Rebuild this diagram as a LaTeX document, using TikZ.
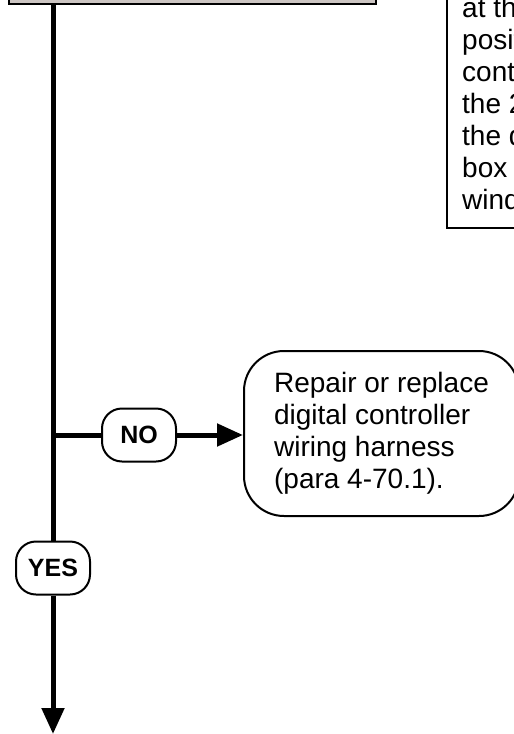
\documentclass[tikz,border=0pt]{standalone}
\usepackage{fontspec}
\setmainfont{Liberation Sans}
\usepackage{xcolor}
\usepackage{tikz}
\usetikzlibrary{arrows.meta, positioning}
\definecolor{stepgray}{RGB}{204,197,194}
\tikzset{
    box/.style={rectangle, draw=black, line width=2pt, align=left, font=\fontsize{28}{32}\selectfont},
    answer/.style={rectangle, rounded corners=20pt, draw=black, line width=2pt, fill=white, minimum width=74pt, minimum height=53pt, inner sep=0pt, font=\fontsize{25}{28}\selectfont\bfseries},
    flow/.style={line width=5pt},
    arrow/.style={line width=5pt, -{Triangle[length=26pt, width=22pt]}}
}

\begin{document}
\begin{tikzpicture}[
        x=1pt, y=-1pt,
        % Text of the cut-off note
        lbl/.style={inner sep=0pt, align=left, font=\fontsize{28}{32}\selectfont}
    ]
        \useasboundingbox (0,0) rectangle (514,734);
        \clip (0,0) rectangle (514,734);

        % --- Previous step (cut off at the top) ---
        \node (check) [box, fill=stepgray, anchor=south west, minimum width=367pt, minimum height=80pt] at (8,5) {};

        % --- Note on the right (cut off) ---
        \node (note) [box, anchor=south west, minimum width=220pt, minimum height=270pt] at (446,229) {};
        \node (notetext) [lbl, anchor=base west] at (462,209) {at the\\position\\controller\\the 2\\the digital\\box\\window};

        % --- Repair action ---
        \node (repair) [box, rounded corners=40pt, minimum width=275pt, minimum height=165pt, anchor=north west] at (243,350) {Repair or replace\\digital controller\\wiring harness\\(para 4-70.1).};

        % --- Answers ---
        \node (no) [answer] at (139,435) {NO};
        \node (yes) [answer] at (53,568) {YES};
        \coordinate (branch) at (53,435);
        \coordinate (spineend) at (53,734);

        % Connections
        \draw [flow] (check.south -| yes) -- (yes);
        \draw [arrow] (yes) -- (spineend);
        \draw [flow] (branch) -- (no);
        \draw [arrow] (no) -- (no -| repair.west);

    \end{tikzpicture}
\end{document}
